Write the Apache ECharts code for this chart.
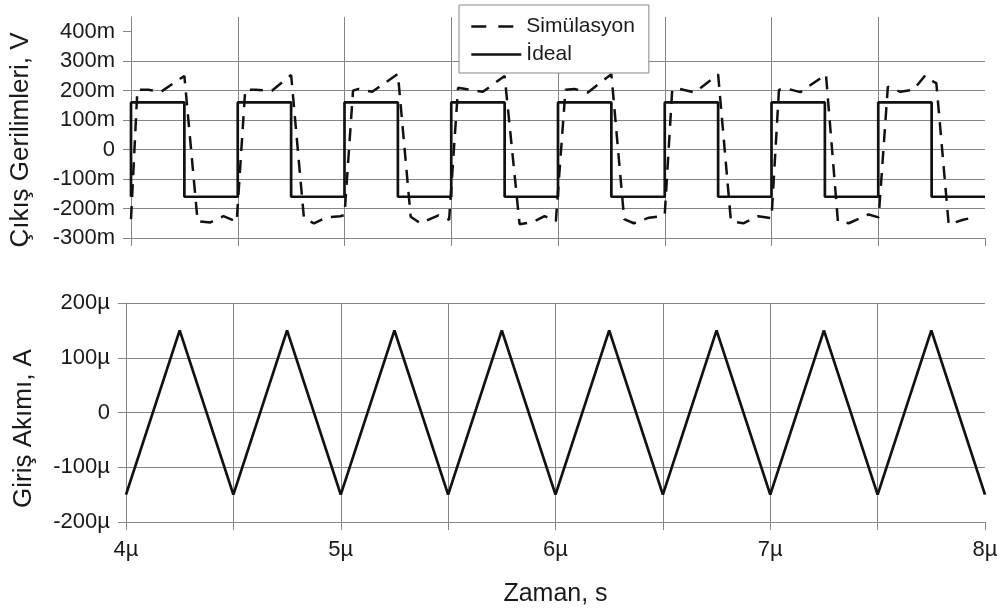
<!DOCTYPE html>
<html>
<head>
<meta charset="utf-8">
<script src="https://cdn.jsdelivr.net/npm/echarts@6/dist/echarts.min.js"></script>
<style>
  html, body { margin: 0; padding: 0; background: #fff; }
  #chart { width: 1004px; height: 608px; }
</style>
</head>
<body>
<div id="chart"></div>
<script>
// Time axis (µs)
const timeTicks = [4, 5, 6, 7, 8];

// Output voltages (mV)
const voltTicks = [-300, -200, -100, 0, 100, 200, 300, 400];

// Ideal square wave: edge times (µs) and levels (mV), drawn as steps
const idealTime = [4.00, 4.00, 4.25, 4.50, 4.75, 5.00, 5.25, 5.50, 5.75,
                   6.00, 6.25, 6.50, 6.75, 7.00, 7.25, 7.50, 7.75, 8.00];
const idealVolt = [-160, 160, -160, 160, -160, 160, -160, 160, -160,
                   160, -160, 160, -160, 160, -160, 160, -160, -160];

// Simulated output (µs, mV)
const simTime = [
  4.000, 4.030, 4.080, 4.140, 4.250, 4.312, 4.372, 4.433, 4.495,
  4.535, 4.585, 4.660, 4.750, 4.810, 4.857, 4.917, 4.980, 5.000,
  5.040, 5.066, 5.130, 5.250, 5.310, 5.355, 5.440, 5.490,
  5.532, 5.588, 5.648, 5.750, 5.820, 5.880, 5.937, 5.990,
  6.035, 6.077, 6.140, 6.250, 6.310, 6.355, 6.426, 6.477, 6.500,
  6.535, 6.570, 6.640, 6.750, 6.810, 6.868, 6.938, 7.000,
  7.035, 7.078, 7.135, 7.255, 7.311, 7.362, 7.455, 7.502,
  7.545, 7.604, 7.665, 7.720, 7.758, 7.772, 7.830, 7.898, 7.960
];
const simVolt = [
  -236, 203, 203, 196, 250, -243, -247, -226, -245,
   203, 203, 200, 253, -233, -250, -230, -226, -222,
   200, 206, 196, 257, -228, -250, -223, -238,
   210, 203, 196, 250, -253, -247, -226, -243,
   203, 206, 194, 256, -236, -250, -231, -227, -220,
   203, 206, 194, 255, -243, -250, -226, -233,
   203, 206, 195, 255, -243, -250, -220, -230,
   214, 196, 203, 252, 231, 226, -254, -238, -228
];

// Input current triangle (µs, µA)
const currTicks = [-200, -100, 0, 100, 200];
const currTime = [4.00, 4.25, 4.50, 4.75, 5.00, 5.25, 5.50, 5.75, 6.00,
                  6.25, 6.50, 6.75, 7.00, 7.25, 7.50, 7.75, 8.00];
const currVal = [-150, 150, -150, 150, -150, 150, -150, 150, -150,
                 150, -150, 150, -150, 150, -150, 150, -150];

const zip = (a, b) => a.map((x, i) => [x, b[i]]);

const FONT = '"Liberation Sans", Arial, sans-serif';
const GRID = '#858585';
const INK = '#1a1a1a';
const TRACE = '#111';

function xAxisFor(gridIndex, showLabels) {
  return {
    type: 'value', gridIndex, min: 4, max: 8, interval: 0.5,
    axisLine: { show: true, onZero: false, lineStyle: { color: GRID, width: 1 } },
    axisTick: { show: true, length: 8, lineStyle: { color: GRID, width: 1 } },
    splitLine: { show: true, showMinLine: false, showMaxLine: false, lineStyle: { color: GRID, width: 1 } },
    axisLabel: showLabels ? {
      show: true, customValues: timeTicks, margin: 17,
      color: INK, fontFamily: FONT, fontSize: 22,
      formatter: v => v + 'µ'
    } : { show: false },
    name: showLabels ? 'Zaman, s' : '',
    nameLocation: 'middle', nameGap: 60,
    nameTextStyle: { color: INK, fontFamily: FONT, fontSize: 25 }
  };
}

const option = {
  animation: false,
  backgroundColor: '#fff',
  color: [TRACE, TRACE, TRACE],
  grid: [
    { left: 126, right: 19, top: 17, height: 221 },
    { left: 126, right: 19, top: 303, height: 220 }
  ],
  legend: {
    orient: 'vertical', left: 459, top: 5,
    padding: [11, 14, 8, 11], itemGap: 7,
    itemWidth: 50, itemHeight: 14,
    backgroundColor: '#fff', borderColor: '#888', borderWidth: 1, borderRadius: 0,
    itemStyle: { opacity: 0 },
    textStyle: { color: INK, fontFamily: FONT, fontSize: 21 },
    data: [
      { name: 'Simülasyon', lineStyle: { type: [15, 12], width: 2.6 } },
      { name: 'İdeal', lineStyle: { width: 2.6 } }
    ]
  },
  xAxis: [xAxisFor(0, false), xAxisFor(1, true)],
  yAxis: [
    {
      type: 'value', gridIndex: 0, min: -300, max: 450, interval: 100,
      axisLine: { show: true, onZero: false, lineStyle: { color: GRID, width: 1 } },
      axisTick: { show: true, length: 8, customValues: voltTicks, lineStyle: { color: GRID, width: 1 } },
      splitLine: { show: true, showMaxLine: false, lineStyle: { color: GRID, width: 1 } },
      axisLabel: {
        customValues: voltTicks, margin: 16, color: INK, fontFamily: FONT, fontSize: 22,
        formatter: v => (v === 0 ? '0' : v + 'm')
      },
      name: 'Çıkış Gerilimleri, V', nameLocation: 'middle', nameGap: 97,
      nameTextStyle: { color: INK, fontFamily: FONT, fontSize: 26, padding: [0, 25, 0, 0] }
    },
    {
      type: 'value', gridIndex: 1, min: -200, max: 200, interval: 100,
      axisLine: { show: true, onZero: false, lineStyle: { color: GRID, width: 1 } },
      axisTick: { show: true, length: 8, lineStyle: { color: GRID, width: 1 } },
      splitLine: { show: true, lineStyle: { color: GRID, width: 1 } },
      axisLabel: {
        customValues: currTicks, margin: 16, color: INK, fontFamily: FONT, fontSize: 22,
        formatter: v => (v === 0 ? '0' : v + 'µ')
      },
      name: 'Giriş Akımı, A', nameLocation: 'middle', nameGap: 89,
      nameTextStyle: { color: INK, fontFamily: FONT, fontSize: 26, padding: [0, 32, 0, 0] }
    }
  ],
  series: [
    {
      name: 'Simülasyon', type: 'line', xAxisIndex: 0, yAxisIndex: 0,
      data: zip(simTime, simVolt), symbol: 'none', silent: true,
      itemStyle: { color: TRACE },
      lineStyle: { color: TRACE, width: 2.5, type: [13, 9] }
    },
    {
      name: 'İdeal', type: 'line', xAxisIndex: 0, yAxisIndex: 0, step: 'end',
      data: zip(idealTime, idealVolt), symbol: 'none', silent: true,
      itemStyle: { color: TRACE },
      lineStyle: { color: TRACE, width: 2.7 }
    },
    {
      name: 'Giriş Akımı', type: 'line', xAxisIndex: 1, yAxisIndex: 1,
      data: zip(currTime, currVal), symbol: 'none', silent: true,
      itemStyle: { color: TRACE },
      lineStyle: { color: TRACE, width: 2.7 }
    }
  ]
};

const chart = echarts.init(document.getElementById('chart'), null, { renderer: 'canvas' });
chart.setOption(option);
</script>
</body>
</html>
